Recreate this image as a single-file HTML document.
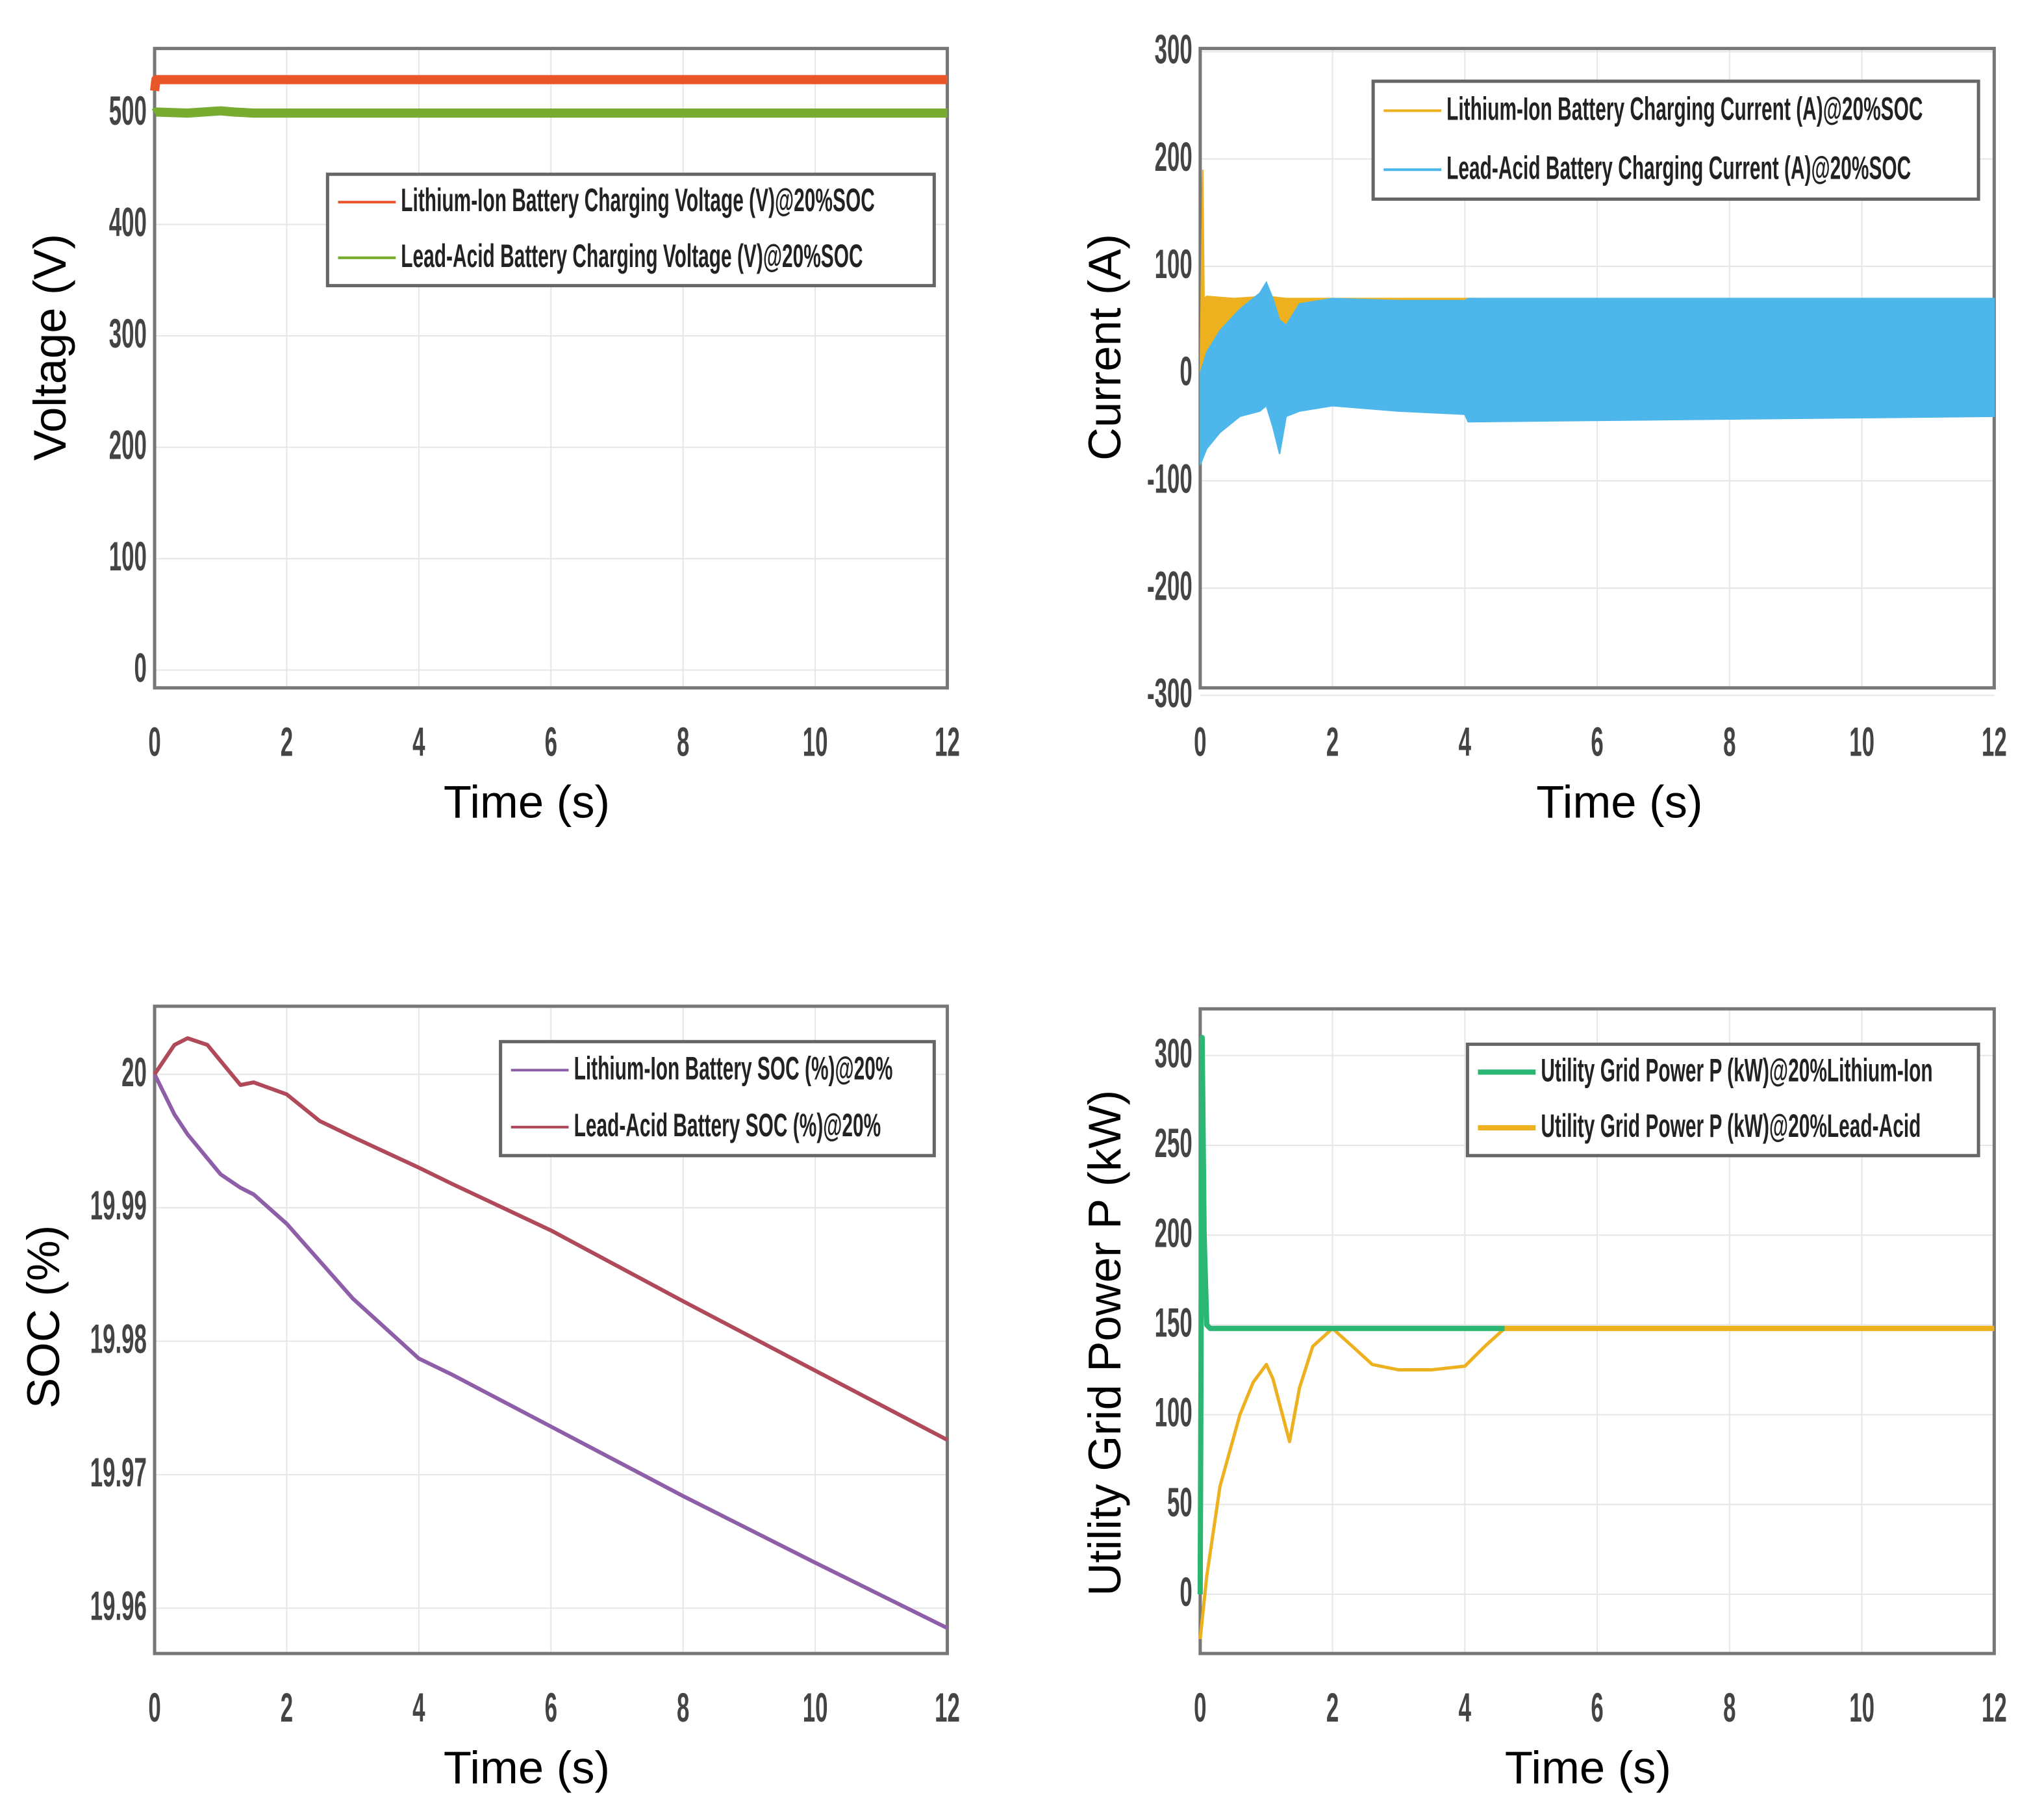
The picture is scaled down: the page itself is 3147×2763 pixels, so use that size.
<!DOCTYPE html>
<html><head><meta charset="utf-8">
<style>
html,body{margin:0;padding:0;background:#fff;}
svg{display:block;}
.tick{font-family:"Liberation Sans",sans-serif;font-weight:bold;fill:#444;font-size:24px;}
.lab{font-family:"Liberation Sans",sans-serif;fill:#000;font-size:35px;}
.leg{font-family:"Liberation Sans",sans-serif;font-weight:bold;fill:#222;font-size:19px;}
</style></head>
<body>
<svg id="fig" width="3147" height="2763" viewBox="0 0 1560 1370" preserveAspectRatio="none" xmlns="http://www.w3.org/2000/svg"></svg>
<script>
// ---- data ----
const xTicks = [0,2,4,6,8,10,12];
// Voltage panel
const vTicks = [0,100,200,300,400,500];
const vTime = [0,0.02,0.5,1.0,1.2,1.5,12];
const vLithium = [520,530,530,530,530,530,530];
const vLead = [500,501,500,502,501,500,500];
// Current panel
const cTicks = [-300,-200,-100,0,100,200,300];
const cBlueTime = [0,0.1,0.3,0.6,0.9,1.0,1.1,1.2,1.3,1.5,2,3,4,4.05,12];
const cBlueUpper = [0,20,40,60,75,85,70,50,45,65,70,68,68,70,70];
const cBlueLower = [-85,-70,-55,-40,-35,-30,-50,-75,-40,-35,-30,-35,-38,-45,-40];
const cOrangeTime = [0,0.04,0.06,0.1,0.5,1.0,1.3,2,4.2];
const cOrangeUpper = [0,190,70,72,70,72,70,70,70];
const cOrangeLower = [0,0,0,10,30,40,30,30,30];
// SOC panel
const sTicks = [19.96,19.97,19.98,19.99,20];
const sTime = [0,0.3,0.5,0.8,1.0,1.3,1.5,2,2.5,3,4,4.5,6,8,10,12];
const sLithium = [20,19.997,19.9955,19.9937,19.9925,19.9915,19.991,19.9888,19.986,19.9832,19.9787,19.9775,19.9736,19.9684,19.9634,19.9585];
const sLead = [20,20.0022,20.0027,20.0022,20.001,19.9992,19.9994,19.9985,19.9965,19.9953,19.993,19.9918,19.9883,19.983,19.9778,19.9726];
// Power panel
const pTicks = [0,50,100,150,200,250,300];
const pGreenTime = [0,0.03,0.06,0.1,0.15,4.6];
const pGreen = [0,310,200,150,148,148];
const pOrangeTime = [0,0.1,0.3,0.6,0.8,1.0,1.1,1.35,1.5,1.7,2,2.3,2.6,3,3.5,4,4.3,4.6,12];
const pOrange = [-25,10,60,100,118,128,120,85,115,138,148,138,128,125,125,127,138,148,148];

const svg = document.getElementById('fig');
const NS = 'http://www.w3.org/2000/svg';
function mk(tag, attrs, parent){
  const e = document.createElementNS(NS, tag);
  for (const k in attrs) e.setAttribute(k, attrs[k]);
  (parent||svg).appendChild(e);
  return e;
}
function axes(p){
  const g = mk('g',{});
  
  
  const sx = t => p.x0 + (t - 0) / 12 * (p.x1 - p.x0);
  const sy = v => p.y1 - (v - p.ymin) / (p.ymax - p.ymin) * (p.y1 - p.y0);
  mk('rect',{x:p.x0,y:p.y0,width:p.x1-p.x0,height:p.y1-p.y0,fill:'#fff'},g);
  xTicks.forEach(t=>{
    const l = mk('line',{x1:sx(t),x2:sx(t),y1:p.y0,y2:p.y1,stroke:'#e6e6e6','stroke-width':1},g);
    
    
    const tx = mk('text',{x:sx(t),y:p.y1+52,'text-anchor':'middle',class:'tick'},g);
    
    
    tx.setAttribute('transform',`matrix(0.72,0,0,1.3,${sx(t)*0.28},${-(p.y1+52)*0.3})`);
    tx.textContent = t;
  });
  p.ticks.forEach(v=>{
    const y = sy(v);
    const l = mk('line',{x1:p.x0,x2:p.x1,y1:y,y2:y,stroke:'#e6e6e6','stroke-width':1},g);
    
    
    const tx = mk('text',{x:p.x0-6,y:y+9,'text-anchor':'end',class:'tick'},g);
    
    
    tx.setAttribute('transform',`matrix(0.72,0,0,1.3,${(p.x0-6)*0.28},${-(y+9)*0.3})`);
    tx.textContent = p.fmt ? p.fmt(v) : v;
  });
  const b = mk('rect',{x:p.x0,y:p.y0,width:p.x1-p.x0,height:p.y1-p.y0,fill:'none',stroke:'#777','stroke-width':2.5},g);
  
  
  const xl = mk('text',{x:p.xlx,y:p.y1+99,'text-anchor':'middle',class:'lab'},g);
  
  
  xl.textContent = 'Time (s)';
  const yl = mk('text',{x:0,y:0,'text-anchor':'middle',class:'lab',transform:`translate(${p.ylx},${p.yly}) rotate(-90)`},g);
  
  
  yl.textContent = p.ylabel;
  return {g,sx,sy};
}
function line(a, ts, vs, color, w, name){
  const d = ts.map((t,i)=>(i?'L':'M')+a.sx(t).toFixed(1)+','+a.sy(vs[i]).toFixed(1)).join('');
  const e = mk('path',{d,fill:'none',stroke:color,'stroke-width':w,'stroke-linejoin':'round'},a.g);
  
  
}
function band(a, ts, up, lo, color, name){
  let d = ts.map((t,i)=>(i?'L':'M')+a.sx(t).toFixed(1)+','+a.sy(up[i]).toFixed(1)).join('');
  for (let i=ts.length-1;i>=0;i--) d += 'L'+a.sx(ts[i]).toFixed(1)+','+a.sy(lo[i]).toFixed(1);
  const e = mk('path',{d:d+'Z',fill:color,stroke:color,'stroke-width':1},a.g);
  
  
}
function legend(a, x, y, w, h, items){
  const lg = mk('g',{},a.g);
  
  
  mk('rect',{x,y,width:w,height:h,fill:'#fff',stroke:'#666','stroke-width':2.5},lg);
  items.forEach((it,i)=>{
    const cy = y + h*(i+0.5)/items.length;
    const en = mk('g',{},lg);
    
    
    mk('line',{x1:x+8,x2:x+52,y1:cy,y2:cy,stroke:it.c,'stroke-width':it.w},en);
    const t = mk('text',{x:x+56,y:cy+7,class:'leg'},en);
    t.setAttribute('transform',`matrix(0.78,0,0,1.3,${(x+56)*0.22},${-(cy+7)*0.3})`);
    t.textContent = it.t;
  });
}

// Voltage
const A = axes({name:'voltage-chart',x0:118,x1:723,y0:37,y1:525,ymin:-16,ymax:558,ticks:vTicks,ylabel:'Voltage (V)',ylx:50,yly:265,xlx:402});
line(A, vTime, vLithium, '#e8562a', 7, 'lithium-voltage-line');
line(A, vTime, vLead, '#77ac30', 7, 'lead-acid-voltage-line');
legend(A, 250, 133, 463, 85, [{t:'Lithium-Ion Battery Charging Voltage (V)@20%SOC',c:'#e8562a',w:2},{t:'Lead-Acid Battery Charging Voltage (V)@20%SOC',c:'#77ac30',w:2}]);

// Current
const B = axes({name:'current-chart',x0:916,x1:1522,y0:37,y1:525,ymin:-293,ymax:303,ticks:cTicks,ylabel:'Current (A)',ylx:855,yly:265,xlx:1236});
band(B, cOrangeTime, cOrangeUpper, cOrangeLower, '#edb120', 'lithium-current-band');
band(B, cBlueTime, cBlueUpper, cBlueLower, '#4db6ea', 'lead-acid-current-band');
legend(B, 1048, 62, 462, 90, [{t:'Lithium-Ion Battery Charging Current (A)@20%SOC',c:'#edb120',w:2},{t:'Lead-Acid Battery Charging Current (A)@20%SOC',c:'#4db6ea',w:2}]);

// SOC
const C = axes({name:'soc-chart',x0:118,x1:723,y0:768,y1:1262,ymin:19.9566,ymax:20.0051,ticks:sTicks,ylabel:'SOC (%)',ylx:45,yly:1005,xlx:402,fmt:v=>v===20?'20':v.toFixed(2)});
line(C, sTime, sLithium, '#8e5fa8', 3, 'lithium-soc-line');
line(C, sTime, sLead, '#b04a5a', 3, 'lead-acid-soc-line');
legend(C, 382, 795, 331, 87, [{t:'Lithium-Ion Battery SOC (%)@20%',c:'#8e5fa8',w:2},{t:'Lead-Acid Battery SOC (%)@20%',c:'#b04a5a',w:2}]);

// Power
const D = axes({name:'grid-power-chart',x0:916,x1:1522,y0:770,y1:1262,ymin:-33,ymax:326,ticks:pTicks,ylabel:'Utility Grid Power P (kW)',ylx:855,yly:1025,xlx:1212});
line(D, pOrangeTime, pOrange, '#edb120', 2.5, 'lead-acid-power-line');
line(D, pGreenTime, pGreen, '#2bb673', 4, 'lithium-power-line');
line(D, [4.6,12], [148,148], '#edb120', 4, 'lead-acid-power-steady');
legend(D, 1120, 797, 390, 85, [{t:'Utility Grid Power P (kW)@20%Lithium-Ion',c:'#2bb673',w:4},{t:'Utility Grid Power P (kW)@20%Lead-Acid',c:'#edb120',w:4}]);
</script>
</body></html>
